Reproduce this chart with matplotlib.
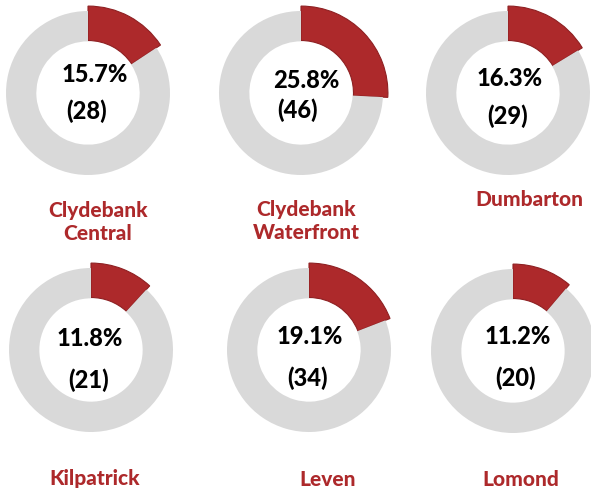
import matplotlib.pyplot as plt

plt.rcParams["font.family"] = ["Lato", "DejaVu Sans"]

W, H = 591, 495

areas = ["Clydebank\nCentral", "Clydebank\nWaterfront", "Dumbarton", "Kilpatrick", "Leven", "Lomond"]
pct = [15.7, 25.8, 16.3, 11.8, 19.1, 11.2]
counts = [28, 46, 29, 21, 34, 20]

# layout in pixels (centre of ring, % label, count label, area label)
centres = [(88, 93), (301, 93), (508, 93), (91, 350), (309, 350), (513, 351)]
pct_pos = [(95, 75), (306, 80), (510, 78), (90, 339), (310, 336), (518, 337)]
cnt_pos = [(87, 111), (297, 110), (508, 116), (89, 380), (308, 378), (515, 378)]
name_pos = [(98, 222), (306, 221), (529, 200), (95, 478), (328, 479), (521, 480)]

red = "#AD292B"
grey = "#D9D9D9"
r_px = 82
half = 92

fig = plt.figure(figsize=(W / 100, H / 100), dpi=100)

for i in range(len(areas)):
    cx, cy = centres[i]
    ax = fig.add_axes([(cx - half) / W, 1 - (cy + half) / H, 2 * half / W, 2 * half / H])
    wedges, _ = ax.pie(
        [pct[i], 100 - pct[i]],
        colors=[red, grey],
        startangle=90,
        counterclock=False,
        radius=1.0,
        wedgeprops=dict(width=0.37, linewidth=0),
    )
    # highlighted slice sits a little proud of the ring
    wedges[0].set_radius(1.06)
    wedges[0].set_width(0.42)
    wedges[0].set_edgecolor("#8E2022")
    wedges[0].set_linewidth(0.8)
    lim = half / r_px
    ax.set_xlim(-lim, lim)
    ax.set_ylim(-lim, lim)
    ax.set_aspect("equal")
    ax.axis("off")

    fig.text(pct_pos[i][0] / W, 1 - pct_pos[i][1] / H, f"{pct[i]:.1f}%",
             ha="center", va="center", fontsize=17, fontweight="black", color="black")
    fig.text(cnt_pos[i][0] / W, 1 - cnt_pos[i][1] / H, f"({counts[i]})",
             ha="center", va="center", fontsize=17, fontweight="black", color="black")
    fig.text(name_pos[i][0] / W, 1 - name_pos[i][1] / H, areas[i],
             ha="center", va="center", fontsize=15, fontweight="black", color=red,
             linespacing=1.3)

fig.savefig("out.png", dpi=100)
